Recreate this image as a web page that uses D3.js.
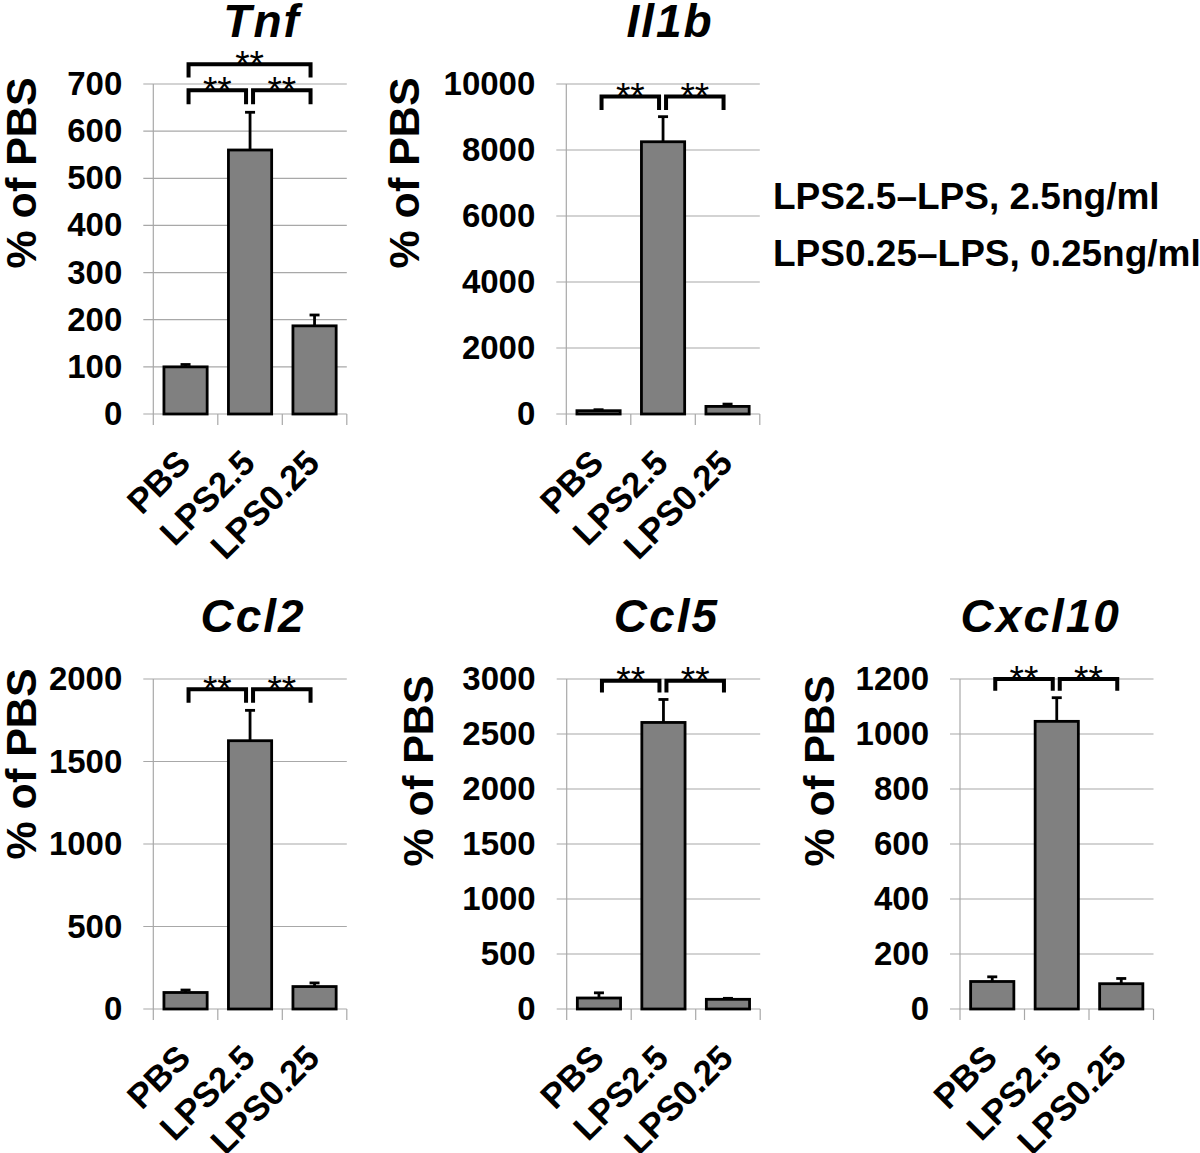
<!DOCTYPE html>
<html>
<head>
<meta charset="utf-8">
<script src="https://cdn.jsdelivr.net/npm/d3@7"></script>
<style>
  html, body { margin: 0; padding: 0; background: #fff; }
  svg { display: block; }
  text { font-family: "Liberation Sans", Arial, sans-serif; }
</style>
</head>
<body>
<script>
// ---------------- data ----------------
const categories = ["PBS", "LPS2.5", "LPS0.25"];
const genes = ["Tnf", "Il1b", "Ccl2", "Ccl5", "Cxcl10"];

const tnfMean = [100, 560, 187];
const tnfErr = [5, 80, 23];
const il1bMean = [100, 8250, 230];
const il1bErr = [30, 760, 70];
const ccl2Mean = [100, 1626, 136];
const ccl2Err = [15, 184, 22];
const ccl5Mean = [100, 2605, 88];
const ccl5Err = [47, 209, 9];
const cxcl10Mean = [100, 1046, 92];
const cxcl10Err = [17, 86, 19];

const tnfTicks = [0, 100, 200, 300, 400, 500, 600, 700];
const il1bTicks = [0, 2000, 4000, 6000, 8000, 10000];
const ccl2Ticks = [0, 500, 1000, 1500, 2000];
const ccl5Ticks = [0, 500, 1000, 1500, 2000, 2500, 3000];
const cxcl10Ticks = [0, 200, 400, 600, 800, 1000, 1200];

// significance brackets: from index, to index, bracket level, leg end (data units)
const tnfSig = [
  { a: 0, b: 1, y: 687, leg: 657, label: "**" },
  { a: 1, b: 2, y: 687, leg: 657, label: "**" },
  { a: 0, b: 2, y: 742, leg: 714, label: "**" }
];
const il1bSig = [
  { a: 0, b: 1, y: 9620, leg: 9210, label: "**" },
  { a: 1, b: 2, y: 9620, leg: 9210, label: "**" }
];
const ccl2Sig = [
  { a: 0, b: 1, y: 1938, leg: 1856, label: "**" },
  { a: 1, b: 2, y: 1938, leg: 1856, label: "**" }
];
const ccl5Sig = [
  { a: 0, b: 1, y: 2984, leg: 2877, label: "**" },
  { a: 1, b: 2, y: 2984, leg: 2877, label: "**" }
];
const cxcl10Sig = [
  { a: 0, b: 1, y: 1200, leg: 1157, label: "**" },
  { a: 1, b: 2, y: 1200, leg: 1157, label: "**" }
];

const yAxisTitle = "% of PBS";
const legendLines = ["LPS2.5\u2013LPS, 2.5ng/ml", "LPS0.25\u2013LPS, 0.25ng/ml"];

// ---------------- layout ----------------
const W = 1200, H = 1153;
const plotW = 193.5;
const panels = [
  { gene: genes[0], mean: tnfMean, err: tnfErr, ticks: tnfTicks, sig: tnfSig, x0: 153.3, top: 84, bottom: 414, titleDx: 12, yTitleDx: -117, yTitleDy: 89 },
  { gene: genes[1], mean: il1bMean, err: il1bErr, ticks: il1bTicks, sig: il1bSig, x0: 566.3, top: 84, bottom: 414, titleDx: 7, yTitleDx: -147, yTitleDy: 89 },
  { gene: genes[2], mean: ccl2Mean, err: ccl2Err, ticks: ccl2Ticks, sig: ccl2Sig, x0: 153.3, top: 679, bottom: 1009, titleDx: 3, yTitleDx: -117, yTitleDy: 85 },
  { gene: genes[3], mean: ccl5Mean, err: ccl5Err, ticks: ccl5Ticks, sig: ccl5Sig, x0: 566.7, top: 679, bottom: 1009, titleDx: 3, yTitleDx: -134, yTitleDy: 92 },
  { gene: genes[4], mean: cxcl10Mean, err: cxcl10Err, ticks: cxcl10Ticks, sig: cxcl10Sig, x0: 960, top: 679, bottom: 1009, titleDx: -16, yTitleDx: -126, yTitleDy: 92 }
];

const svg = d3.select("body").append("svg")
  .attr("width", W).attr("height", H)
  .attr("viewBox", `0 0 ${W} ${H}`);
svg.append("rect").attr("width", W).attr("height", H).attr("fill", "#fff");

const gridColor = "#a8a8a8";

panels.forEach(p => {
  const g = svg.append("g");
  const x = d3.scaleBand().domain(categories)
    .range([p.x0, p.x0 + plotW]).paddingInner(0.33).paddingOuter(0.165);
  const y = d3.scaleLinear().domain([0, d3.max(p.ticks)]).range([p.bottom, p.top]);
  const cx = i => x(categories[i]) + x.bandwidth() / 2;
  const step = x.step();

  // gridlines
  g.selectAll("line.grid").data(p.ticks).enter().append("line")
    .attr("x1", p.x0 - 10).attr("x2", p.x0 + plotW)
    .attr("y1", d => y(d)).attr("y2", d => y(d))
    .attr("stroke", gridColor).attr("stroke-width", 1.2);
  // vertical axis line
  g.append("line").attr("x1", p.x0).attr("x2", p.x0)
    .attr("y1", p.top).attr("y2", p.bottom + 11)
    .attr("stroke", gridColor).attr("stroke-width", 1.2);
  // category boundary ticks
  g.selectAll("line.ctick").data(categories).enter().append("line")
    .attr("x1", d => x(d) - step * 0.165 + step).attr("x2", d => x(d) - step * 0.165 + step)
    .attr("y1", p.bottom).attr("y2", p.bottom + 11)
    .attr("stroke", gridColor).attr("stroke-width", 1.2);

  // y tick labels
  const ax = g.append("g").attr("transform", `translate(${p.x0},0)`)
    .call(d3.axisLeft(y).tickValues(p.ticks).tickSize(0).tickPadding(31).tickFormat(d3.format("d")));
  ax.select(".domain").remove();
  ax.selectAll("text")
    .attr("font-family", '"Liberation Sans", Arial, sans-serif')
    .attr("font-size", 33).attr("font-weight", "bold").attr("fill", "#000");

  // bars
  g.selectAll("rect.bar").data(p.mean).enter().append("rect")
    .attr("x", (d, i) => x(categories[i]))
    .attr("width", x.bandwidth())
    .attr("y", d => y(d))
    .attr("height", d => p.bottom - y(d))
    .attr("fill", "#808080").attr("stroke", "#000").attr("stroke-width", 2.8);

  // error bars (upper only)
  p.mean.forEach((m, i) => {
    const top = y(m + p.err[i]);
    g.append("line").attr("x1", cx(i)).attr("x2", cx(i))
      .attr("y1", y(m)).attr("y2", top)
      .attr("stroke", "#000").attr("stroke-width", 2.8);
    g.append("line").attr("x1", cx(i) - 5).attr("x2", cx(i) + 5)
      .attr("y1", top).attr("y2", top)
      .attr("stroke", "#000").attr("stroke-width", 2.8);
  });

  // significance brackets
  p.sig.forEach(s => {
    const xa = cx(s.a) + 3, xb = cx(s.b) - 4;
    const yb = y(s.y), yl = y(s.leg);
    g.append("path")
      .attr("d", `M${xa},${yl}V${yb}H${xb}V${yl}`)
      .attr("fill", "none").attr("stroke", "#000").attr("stroke-width", 4)
      .attr("stroke-linejoin", "miter").attr("stroke-linecap", "butt");
    g.append("text").attr("x", (xa + xb) / 2).attr("y", yb + 12.5)
      .attr("text-anchor", "middle").attr("font-size", 37).attr("fill", "#000")
      .text(s.label);
  });

  // x labels
  g.selectAll("text.xl").data(categories).enter().append("text")
    .attr("transform", (d, i) => `translate(${cx(i) + 7},${p.bottom + 51}) rotate(-45)`)
    .attr("text-anchor", "end").attr("font-size", 35).attr("font-weight", "bold")
    .attr("fill", "#000").text(d => d);

  // gene title
  g.append("text").attr("x", p.x0 + plotW / 2 + p.titleDx).attr("y", p.top - 47)
    .attr("text-anchor", "middle").attr("font-size", 46).attr("letter-spacing", 2)
    .attr("font-weight", "bold").attr("font-style", "italic").attr("fill", "#000")
    .text(p.gene);

  // y axis title
  g.append("text")
    .attr("transform", `translate(${p.x0 + p.yTitleDx},${p.top + p.yTitleDy}) rotate(-90)`)
    .attr("text-anchor", "middle").attr("font-size", 43).attr("font-weight", "bold")
    .attr("fill", "#000").text(yAxisTitle);
});

// legend text
svg.selectAll("text.legend").data(legendLines).enter().append("text")
  .attr("x", 773).attr("y", (d, i) => 209 + i * 57)
  .attr("font-size", 37).attr("font-weight", "bold").attr("fill", "#000")
  .text(d => d);
</script>
</body>
</html>
